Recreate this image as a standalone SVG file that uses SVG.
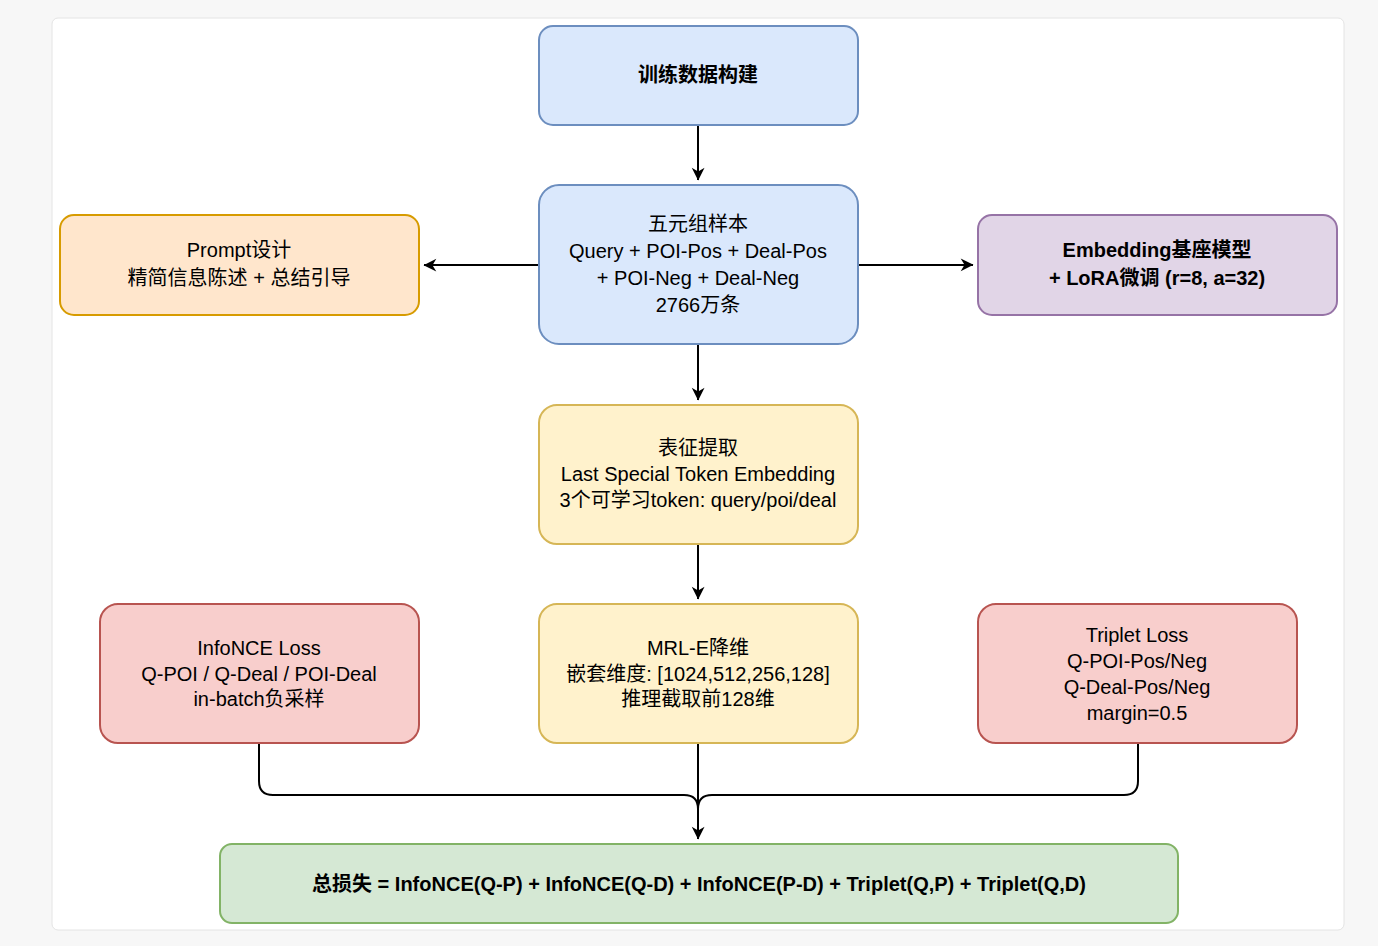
<svg xmlns="http://www.w3.org/2000/svg" width="1378" height="946" viewBox="0 0 1378 946">
<style>
text{font-family:"Liberation Sans","Noto Sans CJK SC",sans-serif;font-size:20px;fill:#000;text-anchor:middle}
.b{font-weight:bold}
.n{stroke-width:2}
.c{fill:none;stroke:#000;stroke-width:2}
</style>
<defs><marker id="a" viewBox="0 0 10 10" refX="9" refY="5" markerWidth="8" markerHeight="8" orient="auto" markerUnits="userSpaceOnUse" style="overflow:visible"><path d="M0,0 L10,5 L0,10 L3,5 Z" transform="scale(1.6) translate(-4,-2)" fill="#000"/></marker></defs>
<rect x="0" y="0" width="1378" height="946" fill="#f7f7f7"/>
<rect x="52" y="18" width="1292" height="912" rx="6" fill="#fff" stroke="#e4e4e4"/>
<g id="connectors">
<path class="c" d="M698,125 V180" marker-end="url(#a)"/>
<path class="c" d="M539,265 H424" marker-end="url(#a)"/>
<path class="c" d="M858,265 H973" marker-end="url(#a)"/>
<path class="c" d="M698,344 V400" marker-end="url(#a)"/>
<path class="c" d="M698,544 V599" marker-end="url(#a)"/>
<path class="c" d="M698,743 V839" marker-end="url(#a)"/>
<path class="c" d="M259,743 V781 Q259,795 273,795 H684 Q698,795 698,809 V839"/>
<path class="c" d="M1138,743 V781 Q1138,795 1124,795 H712 Q698,795 698,809 V839"/>
</g>
<g id="n1"><rect class="n" x="539" y="26" width="319" height="99" rx="14" fill="#dae8fc" stroke="#6c8ebf"/><text class="b" x="698" y="82">训练数据构建</text></g>
<g id="n2"><rect class="n" x="539" y="185" width="319" height="159" rx="20" fill="#dae8fc" stroke="#6c8ebf"/>
<text x="698" y="231">五元组样本</text><text x="698" y="258">Query + POI-Pos + Deal-Pos</text><text x="698" y="285">+ POI-Neg + Deal-Neg</text><text x="698" y="312">2766万条</text></g>
<g id="n3"><rect class="n" x="60" y="215" width="359" height="100" rx="14" fill="#ffe6cc" stroke="#d79b00"/>
<text x="239" y="257">Prompt设计</text><text x="239" y="285">精简信息陈述 + 总结引导</text></g>
<g id="n4"><rect class="n" x="978" y="215" width="359" height="100" rx="14" fill="#e1d5e7" stroke="#9673a6"/>
<text class="b" x="1157" y="257">Embedding基座模型</text><text class="b" x="1157" y="285">+ LoRA微调 (r=8, a=32)</text></g>
<g id="n5"><rect class="n" x="539" y="405" width="319" height="139" rx="18" fill="#fff2cc" stroke="#d6b656"/>
<text x="698" y="455">表征提取</text><text x="698" y="481">Last Special Token Embedding</text><text x="698" y="507">3个可学习token: query/poi/deal</text></g>
<g id="n6"><rect class="n" x="539" y="604" width="319" height="139" rx="18" fill="#fff2cc" stroke="#d6b656"/>
<text x="698" y="655">MRL-E降维</text><text x="698" y="681">嵌套维度: [1024,512,256,128]</text><text x="698" y="706">推理截取前128维</text></g>
<g id="n7"><rect class="n" x="100" y="604" width="319" height="139" rx="18" fill="#f8cecc" stroke="#b85450"/>
<text x="259" y="655">InfoNCE Loss</text><text x="259" y="681">Q-POI / Q-Deal / POI-Deal</text><text x="259" y="706">in-batch负采样</text></g>
<g id="n8"><rect class="n" x="978" y="604" width="319" height="139" rx="18" fill="#f8cecc" stroke="#b85450"/>
<text x="1137" y="642">Triplet Loss</text><text x="1137" y="668">Q-POI-Pos/Neg</text><text x="1137" y="694">Q-Deal-Pos/Neg</text><text x="1137" y="720">margin=0.5</text></g>
<g id="n9"><rect class="n" x="220" y="844" width="958" height="79" rx="12" fill="#d5e8d4" stroke="#82b366"/>
<text class="b" x="699" y="891">总损失 = InfoNCE(Q-P) + InfoNCE(Q-D) + InfoNCE(P-D) + Triplet(Q,P) + Triplet(Q,D)</text></g>
</svg>
